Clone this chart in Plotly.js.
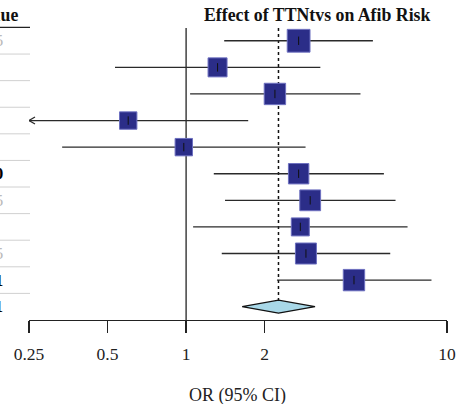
<!DOCTYPE html>
<html>
<head>
<meta charset="utf-8">
<script src="https://cdn.plot.ly/plotly-3.0.1.min.js"></script>
<style>html,body{margin:0;padding:0;background:#fff;}#chart{width:457px;height:404px;}</style>
</head>
<body>
<div id="chart"></div>
<script>
// ---- data ----
var orEst   = [2.70, 1.32, 2.19, 0.60, 0.98, 2.70, 2.99, 2.74, 2.88, 4.40];
var ciLow   = [1.40, 0.534, 1.036, 0.20, 0.335, 1.277, 1.41, 1.064, 1.37, 2.23];
var ciHigh  = [5.20, 3.27, 4.66, 1.73, 2.87, 5.73, 6.35, 7.06, 6.06, 8.72];
var weights = [11.4, 9.5, 10.7, 8.7, 8.7, 10.2, 10.4, 9.0, 10.5, 10.7];
var pLabels = ["0.005", "", "", "", "", "0.010", "0.005", "", "0.005", "0.001", "<0.001"];
var pBold   = [false, false, false, false, false, true, false, false, false, true, true];
var pooledEst = 2.26, pooledLow = 1.64, pooledHigh = 3.12;
var tickVals = [0.25, 0.5, 1, 2, 10];
var tickText = ["0.25", "0.5", "1", "2", "10"];

// ---- layout geometry ----
var W = 457, H = 404;
var mL = 29, mR = 10, mT = 28, mB = 84;
var plotW = W - mL - mR, plotH = H - mT - mB;
var xMin = 0.25, xMax = 10;
var yTop = -0.48, yBot = 10.5;
var pxPerRow = plotH / (yBot - yTop);
var pxPerOct = plotW / Math.log2(xMax / xMin);
function rowPaper(r) { return (yBot - r) / (yBot - yTop); }
function pxX(px) { return (px - mL) / plotW; }
function pxY(py) { return (H - mB - py) / plotH; }

var n = orEst.length;
var rows = orEst.map(function (_, i) { return i; });
var serif = "Liberation Serif, Times New Roman, serif";
var lineCol = "#2a2a2a";

var traces = [];

// reference line at OR = 1
traces.push({x: [1, 1], y: [yTop, yBot], mode: "lines", line: {color: "#111", width: 1.2},
  hoverinfo: "skip", showlegend: false, cliponaxis: false});

// dotted line at pooled estimate
var dh = 6.5 / pxPerRow;
traces.push({x: [pooledEst, pooledEst], y: [yTop, n - dh], mode: "lines",
  line: {color: "#111", width: 1.5, dash: "dot"}, hoverinfo: "skip", showlegend: false});

// CI lines
for (var i = 0; i < n; i++) {
  var l = Math.max(ciLow[i], xMin), h = Math.min(ciHigh[i], xMax);
  traces.push({x: [l, h], y: [i, i], mode: "lines", line: {color: lineCol, width: 1.3},
    hoverinfo: "skip", showlegend: false});
  if (ciLow[i] < xMin) {
    var ax = xMin * Math.pow(2, 6 / pxPerOct), ay = 3.5 / pxPerRow;
    traces.push({x: [ax, xMin, ax], y: [i - ay, i, i + ay], mode: "lines",
      line: {color: lineCol, width: 1.3}, hoverinfo: "skip", showlegend: false, cliponaxis: false});
  }
}

// boxes
traces.push({x: orEst, y: rows, mode: "markers",
  marker: {symbol: "square", size: weights.map(function (w) { return w * 2; }), opacity: 1,
    color: "#2b2d88", line: {color: "#6d70c0", width: 1}},
  hoverinfo: "skip", showlegend: false});
// centre ticks
traces.push({x: orEst, y: rows, mode: "markers",
  marker: {symbol: "line-ns", size: 6, opacity: 1, line: {color: "#111", width: 1}},
  hoverinfo: "skip", showlegend: false});

// pooled diamond
traces.push({x: [pooledLow, pooledEst, pooledHigh, pooledEst, pooledLow],
  y: [n, n - dh, n, n + dh, n], mode: "lines", fill: "toself",
  fillcolor: "#a8d8e8", line: {color: "#111", width: 1.2},
  hoverinfo: "skip", showlegend: false});

// ---- left table fragments ----
var shapes = [];
shapes.push({type: "line", xref: "paper", yref: "paper", x0: pxX(-5), x1: pxX(30),
  y0: rowPaper(-0.5), y1: rowPaper(-0.5), line: {color: "#222", width: 1.2}});
for (var r = 0; r < n; r++) {
  shapes.push({type: "line", xref: "paper", yref: "paper", x0: pxX(-5), x1: pxX(30),
    y0: rowPaper(r + 0.5), y1: rowPaper(r + 0.5), line: {color: "#d0d0d0", width: 1}});
}

var annotations = [];
annotations.push({xref: "paper", yref: "paper", x: pxX(317.5), y: pxY(15),
  text: "<b>Effect of TTNtvs on Afib Risk</b>", showarrow: false,
  font: {family: serif, size: 17.8, color: "#111"}, xanchor: "center", yanchor: "middle"});
annotations.push({xref: "paper", yref: "paper", x: pxX(19.5), y: pxY(15),
  text: "<b>P-value</b>", showarrow: false,
  font: {family: serif, size: 17.8, color: "#111"}, xanchor: "right", yanchor: "middle"});
for (var k = 0; k < pLabels.length; k++) {
  if (!pLabels[k]) continue;
  annotations.push({xref: "paper", yref: "paper", x: pxX(4.5), y: rowPaper(k),
    text: pBold[k] ? "<b>" + pLabels[k] + "</b>" : pLabels[k], showarrow: false,
    font: {family: serif, size: 17, color: pBold[k] ? "#000" : "#bbbbbb"},
    xanchor: "right", yanchor: "middle"});
}
annotations.push({xref: "paper", yref: "paper", x: pxX(237.5), y: pxY(395),
  text: "OR (95% CI)", showarrow: false,
  font: {family: serif, size: 18, color: "#222"}, xanchor: "center", yanchor: "middle"});

var layout = {
  width: W, height: H,
  margin: {l: mL, r: mR, t: mT, b: mB, pad: 0},
  paper_bgcolor: "#fff", plot_bgcolor: "#fff",
  showlegend: false,
  xaxis: {type: "log", range: [Math.log10(xMin), Math.log10(xMax)],
    tickvals: tickVals, ticktext: tickText, ticks: "outside", ticklen: 12,
    tickwidth: 1.2, tickcolor: "#222", showline: true, linecolor: "#222", linewidth: 1.2,
    showgrid: false, zeroline: false, ticklabelstandoff: 6,
    tickfont: {family: serif, size: 17.5, color: "#222"}},
  yaxis: {range: [yBot, yTop], visible: false, showgrid: false, zeroline: false},
  shapes: shapes,
  annotations: annotations
};

Plotly.newPlot("chart", traces, layout, {staticPlot: true, displayModeBar: false});
</script>
</body>
</html>
